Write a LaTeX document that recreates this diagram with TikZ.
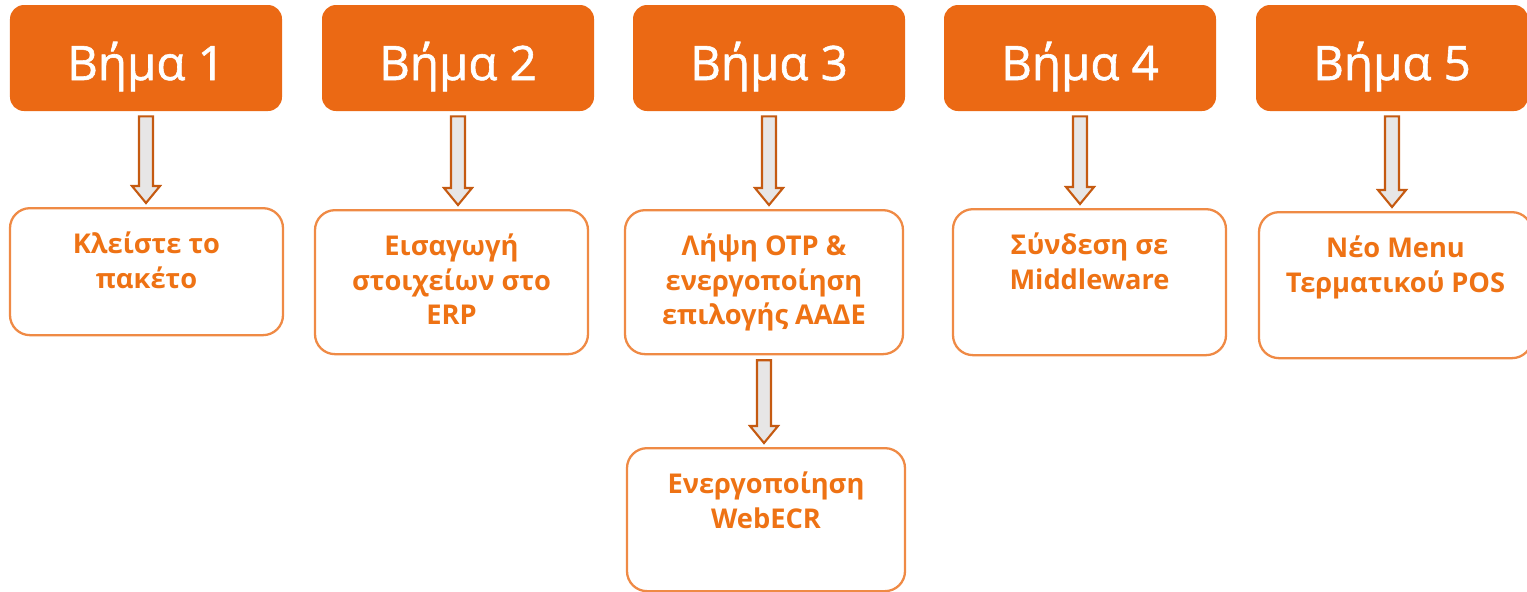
\documentclass[tikz,border=0pt]{standalone}
\usepackage{fontspec}
\setmainfont{Open Sans}
\newfontfamily\headfont{Open Sans}[FakeBold=1.2]
\usepackage{xcolor}
\usetikzlibrary{positioning, calc}

\definecolor{headorange}{HTML}{EB6914}
\definecolor{boxorange}{HTML}{EF8A45}
\definecolor{txtorange}{HTML}{EE7214}
\definecolor{arrowfill}{HTML}{E7E6E6}
\definecolor{arrowedge}{HTML}{C55A11}

% block arrow from the bottom of one node to the top of the next
\newcommand{\blockarrow}[2]{%
  \draw[fatarrow] let \p1 = ($(#1.south)+(0,-0.1)$), \p2 = ($(#2.north)+(0,0.08)$) in
    (\x1-0.14cm,\y1) -- (\x1+0.14cm,\y1) -- (\x1+0.14cm,\y2+0.34cm)
    -- (\x1+0.28cm,\y2+0.34cm) -- (\x1,\y2) -- (\x1-0.28cm,\y2+0.34cm)
    -- (\x1-0.14cm,\y2+0.34cm) -- cycle;}

\begin{document}
\begin{tikzpicture}[
    stephead/.style = {
        fill=headorange, rounded corners=0.28cm, minimum width=5.44cm,
        minimum height=2.12cm, text=white, text height=0.88cm, text depth=0cm,
        font=\headfont\fontsize{27}{32}\selectfont
    },
    stepbox/.style = {
        draw=boxorange, line width=1.3pt, rounded corners=0.4cm,
        minimum width=5.46cm, anchor=north
    },
    steptext/.style = {
        align=center, inner sep=0pt, text=txtorange,
        font=\fontsize{15.5}{19.9}\selectfont\bfseries
    },
    fatarrow/.style = {fill=arrowfill, draw=arrowedge, line width=1.2pt, line join=miter}
  ]
    \useasboundingbox (0,0) rectangle (30.54,-11.82);

    % headers
    \foreach \i/\x in {1/2.92, 2/9.16, 3/15.38, 4/21.60, 5/27.84}
        \node[stephead] (h\i) at (\x,-1.16) {Βήμα \i};

    % boxes below the headers
    \node[stepbox, minimum height=2.54cm] (b1) at (2.93,-4.14) {};
    \node[stepbox, minimum height=2.88cm] (b2) at (9.03,-4.18) {};
    \node[stepbox, minimum height=2.88cm, minimum width=5.56cm] (b3) at (15.28,-4.18) {};
    \node[stepbox, minimum height=2.92cm] (b4) at (21.79,-4.16) {};
    \node[stepbox, minimum height=2.92cm] (b5) at (27.91,-4.22) {};
    \node[stepbox, minimum height=2.86cm, minimum width=5.56cm] (b6) at (15.32,-8.94) {};

    % texts
    \node[steptext, below=0.48cm of b1.north] (t1) {Κλείστε το\\πακέτο};
    \node[steptext, below=0.48cm of b2.north] (t2) {Εισαγωγή\\στοιχείων στο\\ERP};
    \node[steptext, below=0.48cm of b3.north] (t3) {Λήψη OTP \&\\ενεργοποίηση\\επιλογής ΑΑΔΕ};
    \node[steptext, below=0.48cm of b4.north] (t4) {Σύνδεση σε\\Middleware};
    \node[steptext, below=0.48cm of b5.north] (t5) {Νέο Menu\\Τερματικού POS};
    \node[steptext, below=0.48cm of b6.north] (t6) {Ενεργοποίηση\\WebECR};

    % arrows
    \foreach \i in {1,...,5}
        \blockarrow{h\i}{b\i};
    \blockarrow{b3}{b6};
\end{tikzpicture}
\end{document}
